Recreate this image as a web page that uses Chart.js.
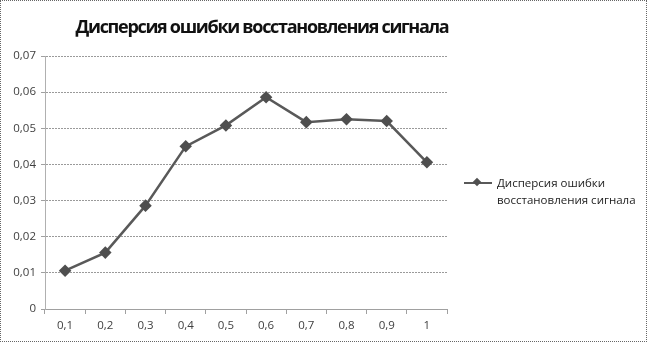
<!DOCTYPE html>
<html>
<head>
<meta charset="utf-8">
<script src="https://cdn.jsdelivr.net/npm/chart.js@4"></script>
<style>
  html, body { margin: 0; padding: 0; background: #fff; }
  #wrap { position: relative; width: 647px; height: 342px; box-sizing: border-box; border: 1px dotted #666; }
  #chart { position: absolute; left: 0; top: 0; }
  #title { position: absolute; left: 0; top: 13px; width: 522px; text-align: center;
           font-family: "Open Sans", sans-serif; font-weight: bold; font-size: 18px; color: #111; letter-spacing: -1.3px; }
  #legend { position: absolute; left: 463px; top: 173px; font-family: "Open Sans", sans-serif; font-size: 11.5px; color: #222; line-height: 17px; }
  #legend .sample { position: absolute; left: 0; top: 8px; width: 28px; height: 2px; background: #595959; }
  #legend .sample i { position: absolute; left: 10px; top: -3px; width: 6px; height: 6px; background: #505050; transform: rotate(45deg); }
  #legend .txt { margin-left: 33px; }
</style>
</head>
<body>
<div id="wrap">
  <canvas id="chart" width="647" height="342"></canvas>
  <div id="title"></div>
  <div id="legend"><span class="sample"><i></i></span><div class="txt"></div></div>
</div>
<script>
// данные графика
const seriesName = 'Дисперсия ошибки восстановления сигнала';
const categories = ['0,1', '0,2', '0,3', '0,4', '0,5', '0,6', '0,7', '0,8', '0,9', '1'];
const values = [0.0106, 0.0156, 0.0286, 0.045, 0.0508, 0.0586, 0.0517, 0.0525, 0.052, 0.0406];
const yTicks = [0, 0.01, 0.02, 0.03, 0.04, 0.05, 0.06, 0.07];

document.getElementById('title').textContent = seriesName;
document.querySelector('#legend .txt').innerHTML = 'Дисперсия ошибки<br>восстановления сигнала';

const ctx = document.getElementById('chart').getContext('2d');
const chart = new Chart(ctx, {
    type: 'line',
    data: {
        labels: categories,
        datasets: [{
            label: seriesName,
            data: values,
            borderColor: '#595959',
            borderWidth: 2.5,
            pointStyle: 'rectRot',
            pointRadius: 4.5,
            pointBackgroundColor: '#4f4f4f',
            pointBorderColor: '#4f4f4f',
            tension: 0
        }]
    },
    options: {
        responsive: false,
        animation: false,
        layout: { padding: { left: 0, right: 201, top: 55, bottom: 0 } },
        plugins: {
            legend: { display: false },
            title: { display: false },
            tooltip: { enabled: false }
        },
        scales: {
            x: {
                offset: true,
                grid: {
                    offset: true,
                    drawOnChartArea: false,
                    tickLength: 5,
                    color: '#a0a0a0'
                },
                border: { color: '#a0a0a0', width: 1 },
                ticks: {
                    color: '#404040',
                    font: { family: 'Open Sans', size: 11.5 },
                    padding: 5,
                    maxRotation: 0
                },
                afterFit: s => { s.height = 34; }
            },
            y: {
                min: 0,
                max: 0.07,
                afterBuildTicks: s => { s.ticks = yTicks.map(v => ({ value: v })); },
                grid: {
                    color: '#9a9a9a',
                    tickLength: 4,
                    tickColor: '#a0a0a0'
                },
                border: { color: '#b0b0b0', width: 1, dash: [2, 1] },
                ticks: {
                    color: '#404040',
                    font: { family: 'Open Sans', size: 11.5 },
                    padding: 5,
                    callback: v => v === 0 ? '0' : v.toFixed(2).replace('.', ',')
                },
                afterFit: s => { s.width = 44; }
            }
        }
    }
});
</script>
</body>
</html>
